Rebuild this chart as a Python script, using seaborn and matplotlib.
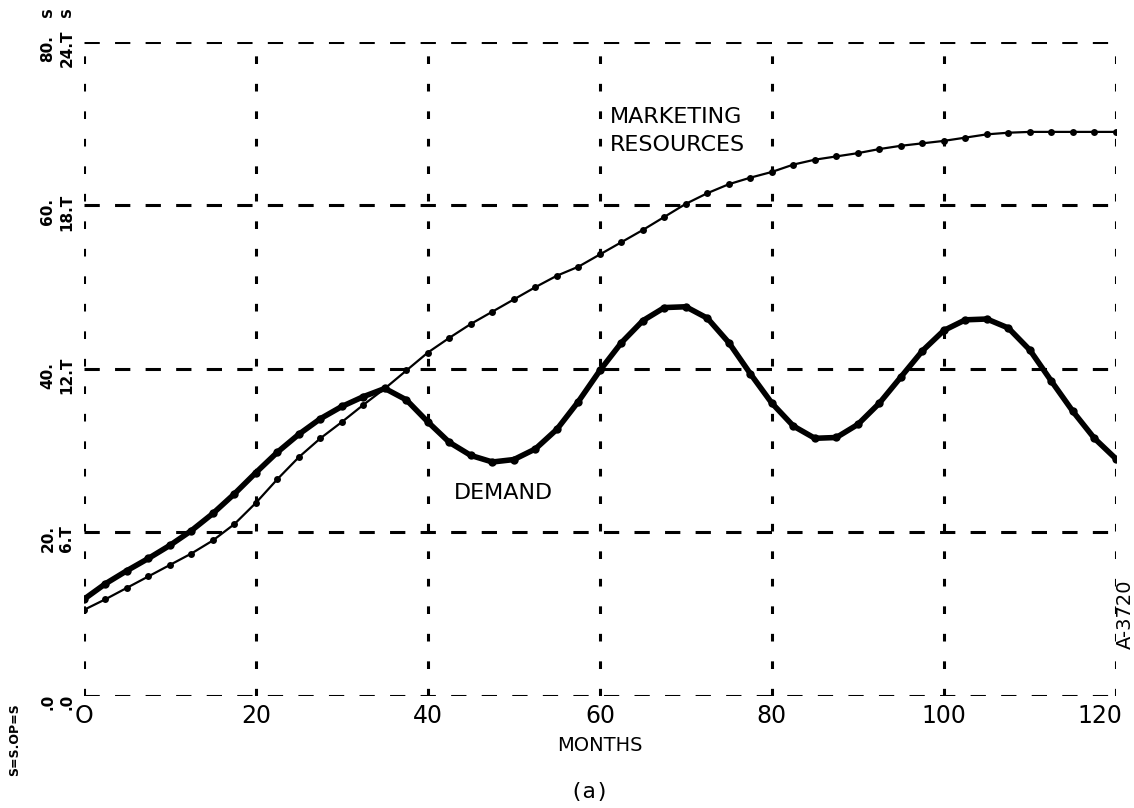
import matplotlib
matplotlib.use("Agg")
import matplotlib.pyplot as plt
import matplotlib.transforms as mtransforms
import seaborn as sns
import pandas as pd

months = [0, 2.5, 5, 7.5, 10, 12.5, 15, 17.5, 20, 22.5, 25, 27.5, 30, 32.5, 35, 37.5,
          40, 42.5, 45, 47.5, 50, 52.5, 55, 57.5, 60, 62.5, 65, 67.5, 70, 72.5, 75, 77.5,
          80, 82.5, 85, 87.5, 90, 92.5, 95, 97.5, 100, 102.5, 105, 107.5, 110, 112.5,
          115, 117.5, 120]

demand = [11.8, 13.7, 15.3, 16.8, 18.4, 20.2, 22.3, 24.7, 27.3, 29.8, 32.0, 33.9, 35.4,
          36.6, 37.6, 36.2, 33.5, 31.0, 29.4, 28.6, 28.9, 30.2, 32.6, 36.0, 39.8, 43.2,
          45.9, 47.5, 47.6, 46.2, 43.2, 39.4, 35.8, 33.0, 31.5, 31.6, 33.2, 35.8, 39.0,
          42.2, 44.7, 46.0, 46.1, 45.0, 42.3, 38.5, 34.8, 31.5, 29.0]

marketing = [10.5, 11.8, 13.2, 14.6, 16.0, 17.4, 19.0, 21.0, 23.6, 26.5, 29.2, 31.5, 33.5,
             35.6, 37.6, 39.8, 42.0, 43.8, 45.5, 47.0, 48.5, 50.0, 51.4, 52.5, 54.0, 55.5,
             57.0, 58.6, 60.2, 61.5, 62.6, 63.4, 64.1, 65.0, 65.6, 66.0, 66.4, 66.9, 67.3,
             67.6, 67.9, 68.3, 68.7, 68.9, 69.0, 69.0, 69.0, 69.0, 69.0]

x_ticks = [0, 20, 40, 60, 80, 100, 120]
x_tick_labels = ["O", "20", "40", "60", "80", "100", "120"]
y_ticks = [0, 20, 40, 60, 80]
y_labels_s = [".0", "20.", "40.", "60.", "80."]
y_labels_t = [".0", "6.T", "12.T", "18.T", "24.T"]

sns.set_theme(style="white")
plt.rcParams['font.family'] = ['DejaVu Sans']
plt.rcParams['text.color'] = 'black'
plt.rcParams['axes.labelcolor'] = 'black'
plt.rcParams['xtick.color'] = 'black'

df = pd.DataFrame({"month": months, "demand": demand, "marketing": marketing})

fig = plt.figure(figsize=(11.34, 8.08), dpi=100)
ax = fig.add_axes([0.074, 0.139, 0.910, 0.809])

# grid
for xv in x_ticks:
    ax.axvline(xv, color="black", lw=2.2, linestyle=(0, (2.5, 6.5)), zorder=1)
for yv in y_ticks:
    ax.axhline(yv, color="black", lw=2.2, linestyle=(0, (5, 5)), zorder=1)

sns.lineplot(data=df, x="month", y="marketing", ax=ax, color="black", lw=1.6,
             marker="o", markersize=5, markeredgewidth=0, zorder=3)
sns.lineplot(data=df, x="month", y="demand", ax=ax, color="black", lw=4.0,
             marker="o", markersize=6, markeredgewidth=0, zorder=4)

ax.set_xlim(0, 120)
ax.set_ylim(0, 80)
for s in ax.spines.values():
    s.set_visible(False)
ax.set_xticks(x_ticks)
ax.set_xticklabels(x_tick_labels, fontsize=17, color="black")
ax.set_yticks([])
ax.tick_params(axis="x", length=0, pad=6)
# shift the last tick label left so it stays inside the figure
last = ax.get_xticklabels()[-1]
last.set_transform(last.get_transform() + mtransforms.ScaledTranslation(-16 / 100, 0, fig.dpi_scale_trans))
ax.set_xlabel("MONTHS", fontsize=14, labelpad=6, color="black")
ax.set_ylabel("")

trans = ax.get_yaxis_transform()
for yv, ls, lt in zip(y_ticks, y_labels_s, y_labels_t):
    ax.text(-0.035, yv - 0.8, ls, transform=trans, rotation=90, fontsize=11,
            fontweight="bold", ha="center", va="center")
    ax.text(-0.0165, yv - 0.8, lt, transform=trans, rotation=90, fontsize=11,
            fontweight="bold", ha="center", va="center")

fig.text(0.042, 0.985, "S", rotation=90, fontsize=10, fontweight="bold", ha="center", va="center")
fig.text(0.059, 0.985, "S", rotation=90, fontsize=10, fontweight="bold", ha="center", va="center")
fig.text(0.013, 0.085, "S=S.OP=S", rotation=90, fontsize=9, fontweight="bold", ha="center", va="center")

ax.text(61.2, 70.8, "MARKETING", fontsize=16, ha="left", va="center")
ax.text(61.2, 67.4, "RESOURCES", fontsize=16, ha="left", va="center")
ax.text(43.0, 24.8, "DEMAND", fontsize=16, ha="left", va="center")
ax.text(1.009, 0.124, "A-3720", transform=ax.transAxes, rotation=90, fontsize=14,
        ha="center", va="center")
fig.text(0.52, 0.02, "(a)", fontsize=16, family="DejaVu Sans Mono", ha="center", va="center")

fig.savefig("out.png", dpi=100)
